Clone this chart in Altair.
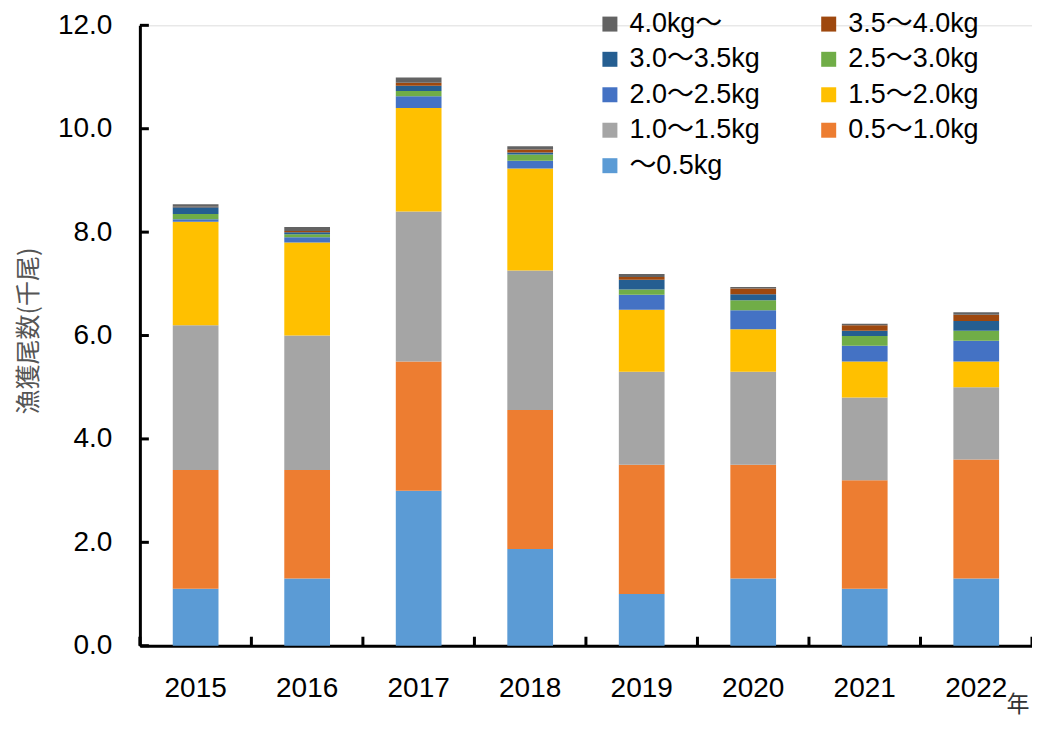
import altair as alt
import pandas as pd

years = ["2015", "2016", "2017", "2018", "2019", "2020", "2021", "2022"]
classes = ["～0.5kg", "0.5～1.0kg", "1.0～1.5kg", "1.5～2.0kg", "2.0～2.5kg",
           "2.5～3.0kg", "3.0～3.5kg", "3.5～4.0kg", "4.0kg～"]
colors = ["#5B9BD5", "#ED7D31", "#A5A5A5", "#FFC000", "#4472C4",
          "#70AD47", "#255E91", "#9E480E", "#636363"]

# values per size class (thousand fish), one entry per year
v_lt05 = [1.10, 1.30, 3.00, 1.87, 1.00, 1.30, 1.10, 1.30]
v_05_10 = [2.30, 2.10, 2.50, 2.69, 2.50, 2.20, 2.10, 2.30]
v_10_15 = [2.80, 2.60, 2.90, 2.70, 1.80, 1.80, 1.60, 1.40]
v_15_20 = [2.00, 1.80, 2.00, 1.97, 1.20, 0.82, 0.70, 0.50]
v_20_25 = [0.05, 0.10, 0.23, 0.15, 0.29, 0.37, 0.30, 0.40]
v_25_30 = [0.10, 0.06, 0.10, 0.12, 0.10, 0.19, 0.19, 0.19]
v_30_35 = [0.13, 0.04, 0.10, 0.04, 0.19, 0.12, 0.10, 0.19]
v_35_40 = [0.01, 0.02, 0.06, 0.06, 0.05, 0.11, 0.11, 0.12]
v_40 = [0.05, 0.08, 0.10, 0.06, 0.06, 0.03, 0.03, 0.05]

series = [v_lt05, v_05_10, v_10_15, v_15_20, v_20_25, v_25_30, v_30_35, v_35_40, v_40]
y_ticks = [0, 2, 4, 6, 8, 10, 12]
# category boundaries (between the year slots) for the inward x ticks
x_bounds = list(range(len(years) + 1))

rows = []
for rank, (cls, vals) in enumerate(zip(classes, series)):
    for yr, v in zip(years, vals):
        rows.append({"year": yr, "cls": cls, "value": v, "rank": rank})
df = pd.DataFrame(rows)
ytick_df = pd.DataFrame({"value": y_ticks})
xtick_df = pd.DataFrame({"b": x_bounds})

W, H = 893, 621
LATIN = "'Liberation Sans', 'Noto Sans CJK JP', sans-serif"
CJK = "'Noto Sans CJK JP', sans-serif"

xscale = alt.Scale(domain=years, paddingInner=0.59, paddingOuter=0.295)
yscale = alt.Scale(domain=[0, 12], nice=False)

y_axis = alt.Axis(orient="left", values=y_ticks, format=".1f",
                  grid=False, ticks=False, domain=True,
                  domainColor="black", domainWidth=3,
                  labelFont=LATIN, labelFontSize=28, labelColor="black",
                  labelPadding=28,
                  title="漁獲尾数(千尾)", titleFont=CJK, titleFontSize=25,
                  titleFontWeight="normal", titleColor="#555555",
                  titleX=-111, titleY=H / 2 - 5, titleAngle=270,
                  titleAlign="center", titleBaseline="middle")

# legend is filled column by column: left column then right column
legend_idx = [8, 6, 4, 2, 0, 7, 5, 3, 1]
legend_domain = [classes[i] for i in legend_idx]
legend_range = [colors[i] for i in legend_idx]

bars = alt.Chart(df).mark_bar().encode(
    x=alt.X("year:N", scale=xscale, sort=years,
            axis=alt.Axis(orient="bottom", ticks=False, domain=True,
                          domainColor="black", domainWidth=3,
                          labelFont=LATIN, labelFontSize=28, labelColor="black",
                          labelAngle=0, labelPadding=29,
                          title="年", titleFont=CJK, titleFontSize=23,
                          titleFontWeight="normal", titleColor="#333333",
                          titleX=W - 3, titleY=59, titleAlign="right",
                          titleBaseline="middle")),
    y=alt.Y("value:Q", stack="zero", scale=yscale, axis=y_axis),
    color=alt.Color("cls:N",
                    scale=alt.Scale(domain=legend_domain, range=legend_range),
                    legend=alt.Legend(orient="none", legendX=457, legendY=-15,
                                      columns=2, title=None, padding=0,
                                      symbolType="square", symbolSize=225,
                                      symbolStrokeWidth=0,
                                      labelFont=LATIN, labelFontSize=27,
                                      labelColor="black", labelOffset=6,
                                      labelLimit=400, rowPadding=7.5,
                                      columnPadding=55)),
    order=alt.Order("rank:Q", sort="ascending"),
)

yticks = alt.Chart(ytick_df).mark_rule(color="black", strokeWidth=3).encode(
    y=alt.Y("value:Q", scale=yscale, axis=y_axis),
    x=alt.value(0),
    x2=alt.value(9),
)

xticks = alt.Chart(xtick_df).mark_rule(color="black", strokeWidth=3).encode(
    x=alt.X("b:Q", scale=alt.Scale(domain=[0, len(years)], nice=False, zero=False),
            axis=None),
    y=alt.value(H - 9),
    y2=alt.value(H),
)

chart = alt.layer(bars, yticks, xticks).resolve_scale(
    x="independent"
).resolve_axis(x="independent").properties(
    width=W, height=H,
    autosize=alt.AutoSizeParams(type="none"),
    padding={"left": 132, "top": 17, "right": 0, "bottom": 74},
).configure_view(stroke=None).configure(background="white")

chart.save("out.html", embed_options={"renderer": "svg", "actions": False})
